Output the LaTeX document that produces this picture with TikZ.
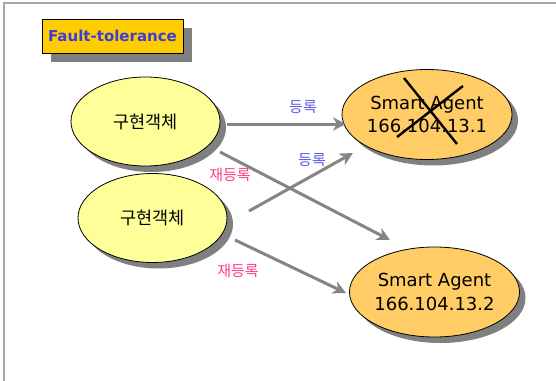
\documentclass[tikz,border=0pt]{standalone}
\usepackage{fontspec}
\setmainfont{DejaVu Sans}
\newfontfamily\kr{Noto Sans CJK KR}
\usetikzlibrary{shapes.geometric,arrows.meta,shadows}
\definecolor{frameg}{HTML}{A8A8A8}
\definecolor{shad}{HTML}{808080}
\definecolor{yel}{HTML}{FFFF99}
\definecolor{ora}{HTML}{FFCC66}
\definecolor{titlefill}{HTML}{FFCC00}
\definecolor{titleblue}{HTML}{3C3CD8}
\definecolor{lblue}{HTML}{5A5AE6}
\definecolor{lpink}{HTML}{FF3C8C}
\definecolor{arrg}{HTML}{858585}
\tikzset{
  shadowed/.style={drop shadow={shadow xshift=6pt,shadow yshift=-6pt,fill=shad,opacity=1}},
  titleshadow/.style={drop shadow={shadow xshift=9pt,shadow yshift=-9pt,fill=shad,opacity=1}},
  objnode/.style={ellipse,draw=black,line width=0.8pt,fill=yel,shadowed,minimum width=149pt,minimum height=89pt,inner sep=0pt,font=\kr\fontsize{17.5}{19}\selectfont},
  agentnode/.style={ellipse,draw=black,line width=0.8pt,fill=ora,shadowed,minimum width=164pt,minimum height=90pt,inner sep=0pt,align=center,font=\fontsize{18}{23.5}\selectfont},
  conn/.style={draw=arrg,line width=3pt,-{Stealth[length=13pt,width=13pt,inset=4pt]}},
  reglabel/.style={text=lblue,font=\kr\fontsize{15}{17}\selectfont,inner sep=0pt},
  rereglabel/.style={text=lpink,font=\kr\fontsize{15}{17}\selectfont,inner sep=0pt},
  crossline/.style={draw=black,line width=2.4pt}
}
\begin{document}
\begin{tikzpicture}[x=1pt,y=-1pt]
\useasboundingbox (0,0) rectangle (556,380);
\fill[white] (0,0) rectangle (556,380);
% frame
\draw[frameg,line width=2pt] (4,382) -- (4,3) -- (558,3);
% title
\node[draw=black,line width=0.8pt,fill=titlefill,titleshadow,minimum width=141pt,minimum height=34pt,inner sep=0pt,text=titleblue,font=\bfseries\fontsize{15}{17}\selectfont] (title) at (112.5,36) {Fault-tolerance};
% nodes
\node[objnode] (e1) at (145.5,121.5) {구현객체};
\node[objnode] (e2) at (152.5,218) {구현객체};
\node[agentnode] (sa1) at (427,114.5) {Smart Agent\\166.104.13.1};
\node[agentnode] (sa2) at (434.5,292) {Smart Agent\\166.104.13.2};
% connector end points
\coordinate (a1s) at (227,124);
\coordinate (a1e) at (346,124);
\coordinate (a2s) at (249,211);
\coordinate (a2e) at (353,153);
\coordinate (a3s) at (220,152);
\coordinate (a3e) at (390,240);
\coordinate (a4s) at (235,240);
\coordinate (a4e) at (346,293);
\draw[conn] (a1s) -- (a1e);
\draw[conn] (a2s) -- (a2e);
\draw[conn] (a3s) -- (a3e);
\draw[conn] (a4s) -- (a4e);
% labels
\node[reglabel] (l1) at (303,107) {등록};
\node[reglabel] (l2) at (312,160) {등록};
\node[rereglabel] (l3) at (230,175) {재등록};
\node[rereglabel] (l4) at (238,271) {재등록};
% cross on failed agent
\coordinate (x1a) at (404,78);
\coordinate (x1b) at (457,144);
\coordinate (x2a) at (463,86);
\coordinate (x2b) at (397,137);
\draw[crossline] (x1a) -- (x1b);
\draw[crossline] (x2a) -- (x2b);
\end{tikzpicture}
\end{document}
